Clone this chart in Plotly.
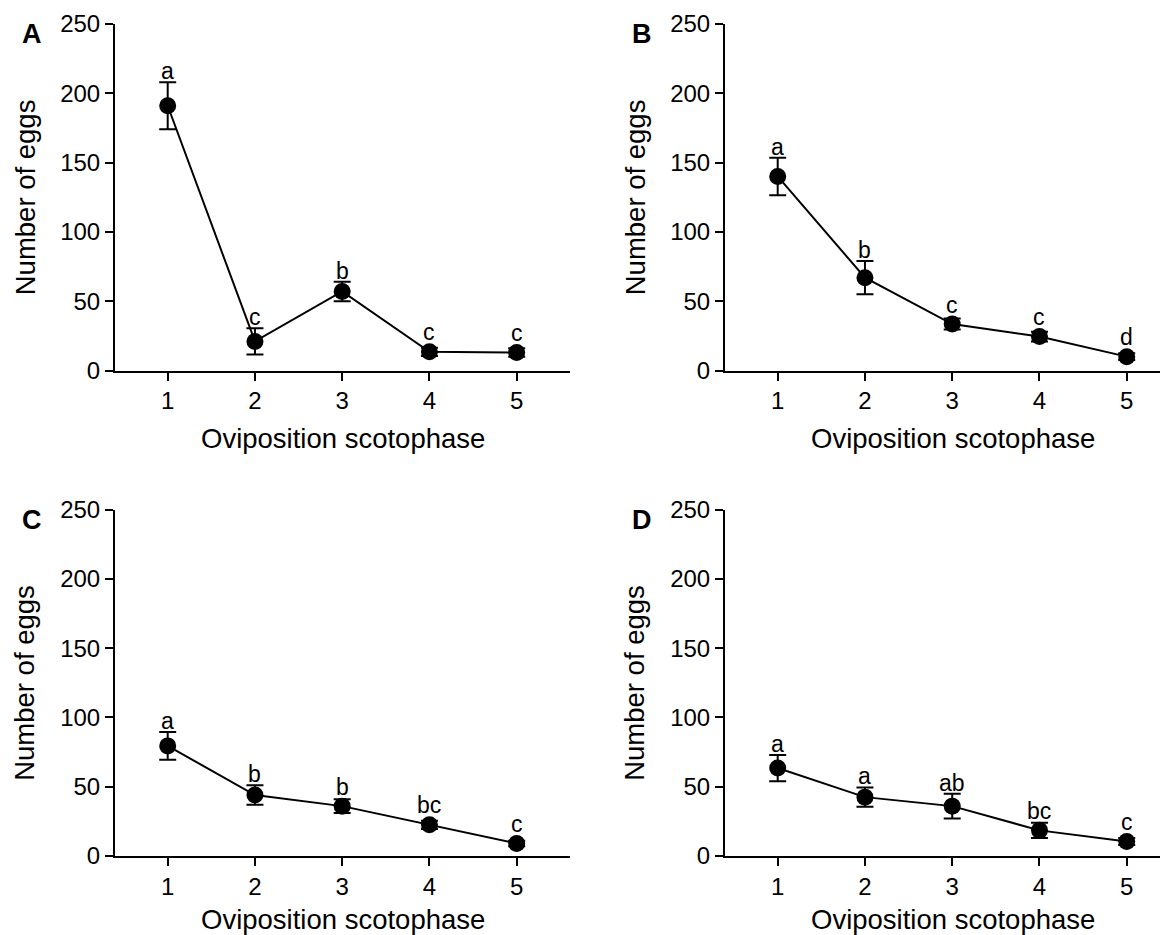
import plotly.graph_objects as go

# ---- data ----
phases = [1, 2, 3, 4, 5]
panel_names = ["A", "B", "C", "D"]

A_mean = [191, 21, 57, 13.5, 13]
A_err = [17, 9.5, 7, 3, 3]
A_letters = ["a", "c", "b", "c", "c"]

B_mean = [140, 67, 33.5, 24.5, 10]
B_err = [13.5, 12, 4, 3.5, 2.5]
B_letters = ["a", "b", "c", "c", "d"]

C_mean = [79.5, 44, 36, 22.5, 9]
C_err = [10, 7, 5, 3, 2]
C_letters = ["a", "b", "b", "bc", "c"]

D_mean = [63.5, 42.5, 36, 18.5, 10.5]
D_err = [9.5, 7, 9, 5.5, 2.5]
D_letters = ["a", "a", "ab", "bc", "c"]

y_ticks = [0, 50, 100, 150, 200, 250]
x_title = "Oviposition scotophase"
y_title = "Number of eggs"

FONT = "Arial, Liberation Sans, sans-serif"
W, H = 1168, 935
OFF = 8  # page body margin

# pixel geometry of the panels in page coords (left, right, top, bottom)
geo = {
    "A": (115, 570, 24, 370.5),
    "B": (725, 1168, 24, 370.5),
    "C": (115, 570, 509.7, 856),
    "D": (725, 1168, 509.7, 856),
}
x_ranges = {"A": [0.396, 5.611], "B": [0.396, 5.473], "C": [0.396, 5.611], "D": [0.396, 5.473]}
title_gap = {"A": 67.5, "B": 67.5, "C": 63, "D": 63}

means = {"A": A_mean, "B": B_mean, "C": C_mean, "D": D_mean}
errs = {"A": A_err, "B": B_err, "C": C_err, "D": D_err}
letters = {"A": A_letters, "B": B_letters, "C": C_letters, "D": D_letters}


def px(v):
    return (v - OFF) / W


def py(v):
    return 1 - (v - OFF) / H


fig = go.Figure()
annotations = []
layout_axes = {}

for i, p in enumerate(panel_names):
    n = "" if i == 0 else str(i + 1)
    xa, ya = "x" + n, "y" + n
    l, r, t, b = geo[p]
    common = dict(
        ticks="outside", ticklen=8, tickwidth=2, tickcolor="black",
        showline=True, linewidth=2, linecolor="black", showgrid=False, zeroline=False,
        automargin=False, tickfont=dict(family=FONT, size=24, color="black"),
    )
    layout_axes["xaxis" + n] = dict(
        domain=[px(l), px(r)], range=x_ranges[p], anchor=ya, tickvals=phases, **common
    )
    layout_axes["yaxis" + n] = dict(
        domain=[py(b), py(t)], range=[0, 250], anchor=xa, tickvals=y_ticks, **common
    )
    fig.add_trace(go.Scatter(
        x=phases, y=means[p], xaxis=xa, yaxis=ya, mode="lines+markers",
        line=dict(color="black", width=2),
        marker=dict(color="black", size=17),
        error_y=dict(type="data", array=errs[p], color="black", thickness=2, width=8.5),
        showlegend=False, cliponaxis=False,
    ))
    # significance letters
    marker_r = 8.5 * 250 / (b - t)
    for x, m, e, s in zip(phases, means[p], errs[p], letters[p]):
        annotations.append(dict(
            x=x, y=m + max(e, marker_r), xref=xa, yref=ya, text=s, showarrow=False,
            yanchor="bottom", yshift=-4,
            font=dict(family=FONT, size=23, color="black"),
        ))
    # panel letter
    annotations.append(dict(
        x=px(l - 83), y=py(t + 10), xref="paper", yref="paper", text="<b>%s</b>" % p,
        showarrow=False, xanchor="center", yanchor="middle",
        font=dict(family=FONT, size=27, color="black"),
    ))
    # axis titles
    annotations.append(dict(
        x=px(l + 227.5), y=py(b + title_gap[p]), xref="paper", yref="paper", text=x_title,
        showarrow=False, xanchor="center", yanchor="middle",
        font=dict(family=FONT, size=27.5, color="black"),
    ))
    annotations.append(dict(
        x=px(l - 90), y=py((t + b) / 2), xref="paper", yref="paper", text=y_title,
        showarrow=False, textangle=-90, xanchor="center", yanchor="middle",
        font=dict(family=FONT, size=27.5, color="black"),
    ))

fig.update_layout(
    width=W, height=H, margin=dict(l=0, r=0, t=0, b=0, autoexpand=False),
    paper_bgcolor="white", plot_bgcolor="white",
    annotations=annotations, **layout_axes,
)

fig.write_html("out.html")
